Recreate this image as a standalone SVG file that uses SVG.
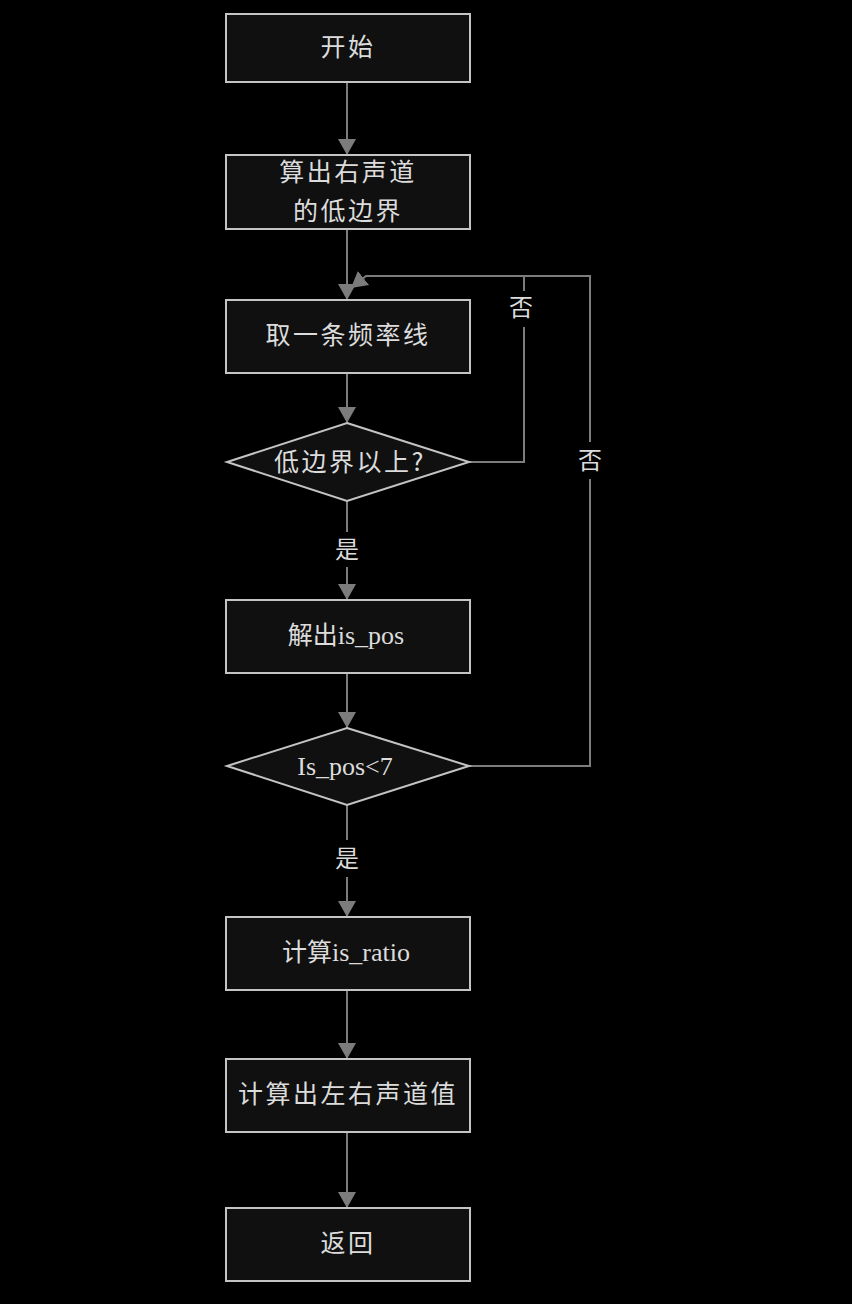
<svg xmlns="http://www.w3.org/2000/svg" width="852" height="1304" viewBox="0 0 852 1304">
<style>
.node{fill:#101010;stroke:#c4c4c4;stroke-width:2}
.t{fill:#dcdcdc;font-family:"Noto Sans CJK SC","Liberation Serif",serif;font-size:25px;text-anchor:middle;letter-spacing:2.5px}
.l{fill:#dcdcdc;font-family:"Liberation Serif","Noto Sans CJK SC",serif;font-size:26px;text-anchor:middle}
.c{fill:none;stroke:#7c7c7c;stroke-width:2}
.lab{fill:#dcdcdc;font-family:"Noto Sans CJK SC",sans-serif;font-size:24px;text-anchor:middle}
</style>
<defs>
<marker id="ah" viewBox="0 0 16 18" refX="16" refY="9" markerWidth="16" markerHeight="18" markerUnits="userSpaceOnUse" orient="auto">
<path d="M0,0 L16,9 L0,18 z" fill="#7c7c7c"/>
</marker>
</defs>
<rect width="852" height="1304" fill="#000"/>
<g id="connectors">
<path class="c" d="M347,82 V155" marker-end="url(#ah)"/>
<path class="c" d="M347,229 V300" marker-end="url(#ah)"/>
<path class="c" d="M347,373 V423" marker-end="url(#ah)"/>
<path class="c" d="M347,501 V532 M347,567 V600" marker-end="url(#ah)"/>
<path class="c" d="M347,673 V728" marker-end="url(#ah)"/>
<path class="c" d="M347,805 V840 M347,877 V917" marker-end="url(#ah)"/>
<path class="c" d="M347,990 V1059" marker-end="url(#ah)"/>
<path class="c" d="M347,1132 V1208" marker-end="url(#ah)"/>
<path class="c" d="M469,766 H590 V479 M590,442 V276 H524"/>
<path class="c" d="M469,462 H524 V327 M524,291 V276 H366 L351,288" marker-end="url(#ah)"/>
<text class="lab" x="347" y="558">是</text>
<text class="lab" x="347" y="867">是</text>
<text class="lab" x="521" y="316">否</text>
<text class="lab" x="590" y="469">否</text>
</g>
<g id="start"><rect class="node" x="226" y="14" width="244" height="68"/><text class="t" x="348" y="56">开始</text></g>
<g id="calc_low"><rect class="node" x="226" y="155" width="244" height="74"/><text class="t" x="348" y="181">算出右声道</text><text class="t" x="348" y="220">的低边界</text></g>
<g id="take_line"><rect class="node" x="226" y="300" width="244" height="73"/><text class="t" x="348" y="344">取一条频率线</text></g>
<g id="above_low"><polygon class="node" points="347,423 469,462 347,501 227,462"/><text class="t" x="350" y="471">低边界以上?</text></g>
<g id="solve_pos"><rect class="node" x="226" y="600" width="244" height="73"/><text class="l" x="346" y="644"><tspan font-family="Noto Sans CJK SC" font-size="25px">解出</tspan>is_pos</text></g>
<g id="pos_lt7"><polygon class="node" points="347,728 469,766 347,805 227,766"/><text class="l" x="345" y="775">Is_pos&lt;7</text></g>
<g id="calc_ratio"><rect class="node" x="226" y="917" width="244" height="73"/><text class="l" x="346" y="961"><tspan font-family="Noto Sans CJK SC" font-size="25px">计算</tspan>is_ratio</text></g>
<g id="calc_lr"><rect class="node" x="226" y="1059" width="244" height="73"/><text class="t" x="348" y="1103">计算出左右声道值</text></g>
<g id="ret"><rect class="node" x="226" y="1208" width="244" height="73"/><text class="t" x="348" y="1252">返回</text></g>
</svg>
